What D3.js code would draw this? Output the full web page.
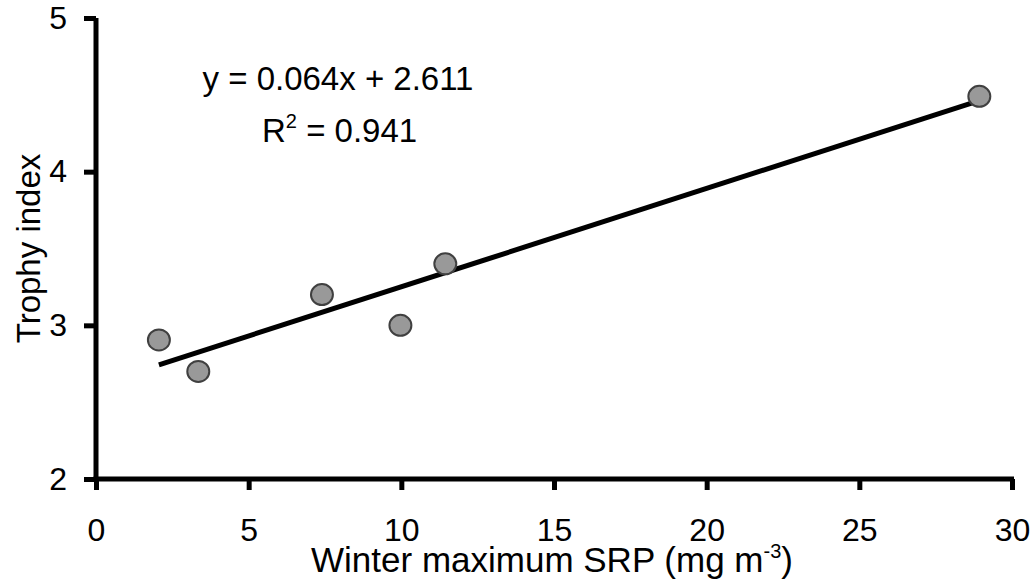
<!DOCTYPE html>
<html>
<head>
<meta charset="utf-8">
<script src="https://cdn.jsdelivr.net/npm/d3@7"></script>
<style>
  body { margin: 0; background: #fff; }
  svg text { font-family: "Liberation Sans", Arial, sans-serif; fill: #000; }
</style>
</head>
<body>
<div id="chart"></div>
<script>
// data
var srp = [2.06, 3.35, 7.4, 9.97, 11.44, 28.93];
var trophy = [2.905, 2.70, 3.20, 3.0, 3.40, 4.49];
var xTicks = [0, 5, 10, 15, 20, 25, 30];
var yTicks = [2, 3, 4, 5];
var slope = 0.064, intercept = 2.611, r2 = 0.941;

var width = 1033, height = 583;
var mLeft = 96, mRight = 1012, mTop = 18, mBottom = 479;

var svg = d3.select('#chart').append('svg')
  .attr('width', width)
  .attr('height', height);

var x = d3.scaleLinear().domain([0, 30]).range([mLeft, mRight]);
var y = d3.scaleLinear().domain([2, 5]).range([mBottom, mTop]);

// axes
var xAxis = svg.append('g')
  .attr('transform', 'translate(0,' + mBottom + ')')
  .call(d3.axisBottom(x).tickValues(xTicks).tickFormat(d3.format('d'))
    .tickSize(11).tickPadding(28).tickSizeOuter(0));
var yAxis = svg.append('g')
  .attr('transform', 'translate(' + mLeft + ',0)')
  .call(d3.axisLeft(y).tickValues(yTicks).tickFormat(d3.format('d'))
    .tickSize(12).tickPadding(17).tickSizeOuter(0));

[xAxis, yAxis].forEach(function (g) {
  g.select('.domain').attr('stroke', '#000').attr('stroke-width', 5);
  g.selectAll('.tick line').attr('stroke', '#000').attr('stroke-width', 5);
  g.selectAll('.tick text').style('font-size', '32px').attr('fill', '#000');
});
// let the x axis line meet the y axis
xAxis.select('.domain').attr('d', 'M' + (mLeft - 2.5) + ',0H' + (mRight + 2));
yAxis.select('.domain').attr('d', 'M0,' + mTop + 'V' + (mBottom + 2.5));

// regression line
var ext = d3.extent(srp);
var line = d3.line().x(function (d) { return x(d); }).y(function (d) { return y(slope * d + intercept); });
svg.append('path')
  .attr('d', line(ext))
  .attr('stroke', '#000')
  .attr('stroke-width', 5)
  .attr('fill', 'none');

// points
svg.selectAll('ellipse.pt')
  .data(srp)
  .enter()
  .append('ellipse')
    .attr('class', 'pt')
    .attr('cx', function (d) { return x(d); })
    .attr('cy', function (d, i) { return y(trophy[i]); })
    .attr('rx', 11)
    .attr('ry', 10.5)
    .attr('fill', '#999')
    .attr('stroke', '#404040')
    .attr('stroke-width', 2);

// equation
svg.append('text')
  .attr('x', 338).attr('y', 90)
  .attr('text-anchor', 'middle')
  .style('font-size', '33px')
  .text('y = ' + slope.toFixed(3) + 'x + ' + intercept.toFixed(3));
var rt = svg.append('text')
  .attr('x', 262).attr('y', 142)
  .style('font-size', '33px');
rt.append('tspan').text('R');
rt.append('tspan').attr('dy', -14).style('font-size', '20px').text('2');
rt.append('tspan').attr('dy', 14).text(' = ' + r2.toFixed(3));

// axis titles
svg.append('text')
  .attr('transform', 'translate(40,' + ((mTop + mBottom) / 2) + ') rotate(-90)')
  .attr('text-anchor', 'middle')
  .style('font-size', '33px')
  .text('Trophy index');

var xt = svg.append('text')
  .attr('x', 552).attr('y', 572)
  .attr('text-anchor', 'middle')
  .style('font-size', '35px');
xt.append('tspan').text('Winter maximum SRP (mg m');
xt.append('tspan').attr('dy', -14).style('font-size', '20px').text('-3');
xt.append('tspan').attr('dy', 14).text(')');
</script>
</body>
</html>
